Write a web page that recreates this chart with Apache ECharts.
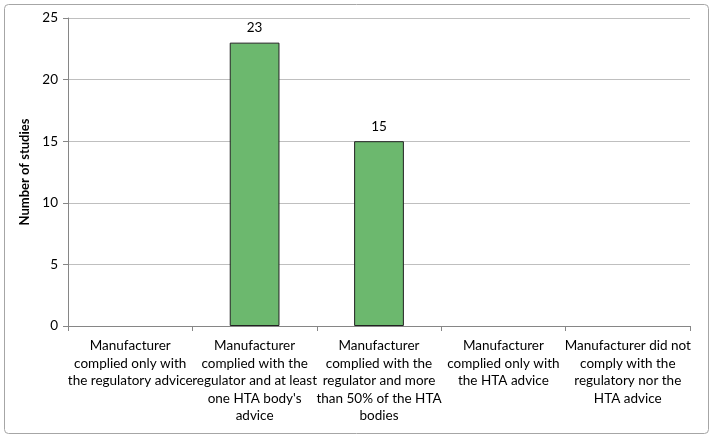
<!DOCTYPE html>
<html>
<head>
<meta charset="utf-8">
<script src="https://cdn.jsdelivr.net/npm/echarts@6/dist/echarts.min.js"></script>
<style>html,body{margin:0;padding:0;background:#fff;}#c{width:709px;height:434px;}</style>
</head>
<body>
<div id="c"></div>
<script>
const categories = [
  "Manufacturer\ncomplied only with\nthe regulatory advice",
  "Manufacturer\ncomplied with the\nregulator and at least\none HTA body's\nadvice",
  "Manufacturer\ncomplied with the\nregulator and more\nthan 50% of the HTA\nbodies",
  "Manufacturer\ncomplied only with\nthe HTA advice",
  "Manufacturer did not\ncomply with the\nregulatory nor the\nHTA advice"
];
const values = [0, 23, 15, 0, 0];
const yTicks = [0, 5, 10, 15, 20, 25];

const font = "Lato, 'Open Sans', sans-serif";
const chart = echarts.init(document.getElementById('c'));
chart.setOption({
  animation: false,
  graphic: [{
    type: 'rect', left: 2, top: 2,
    shape: {width: 704, height: 429, r: 4},
    style: {fill: 'none', stroke: '#a6a6a6', lineWidth: 1}
  }],
  grid: {left: 68, right: 19, top: 18, bottom: 108},
  xAxis: {
    type: 'category',
    data: categories,
    axisLine: {lineStyle: {color: '#868686'}},
    axisTick: {show: true, alignWithLabel: false, length: 5, lineStyle: {color: '#868686'}},
    axisLabel: {interval: 0, color: '#000', fontFamily: font, fontSize: 13.5, lineHeight: 17.5, margin: 11}
  },
  yAxis: {
    type: 'value',
    min: yTicks[0], max: yTicks[yTicks.length - 1], interval: 5,
    name: 'Number of studies',
    nameLocation: 'middle',
    nameGap: 31,
    nameTextStyle: {fontFamily: font, fontSize: 13, fontWeight: 'bold', color: '#000'},
    axisLine: {show: true, lineStyle: {color: '#868686'}},
    axisTick: {show: true, length: 5, lineStyle: {color: '#868686'}},
    axisLabel: {color: '#000', fontFamily: font, fontSize: 13.5, margin: 10},
    splitLine: {show: true, lineStyle: {color: '#bfbfbf'}}
  },
  series: [{
    type: 'bar',
    data: values.map(v => v === 0 ? {value: v, itemStyle: {borderWidth: 0, color: 'rgba(0,0,0,0)'}} : v),
    barWidth: '40%',
    itemStyle: {color: '#6cb86e', borderColor: '#222', borderWidth: 1},
    label: {
      show: true, position: 'top', distance: 8,
      color: '#000', fontFamily: font, fontSize: 13.5,
      formatter: p => p.value === 0 ? '' : String(p.value)
    }
  }]
});
</script>
</body>
</html>
